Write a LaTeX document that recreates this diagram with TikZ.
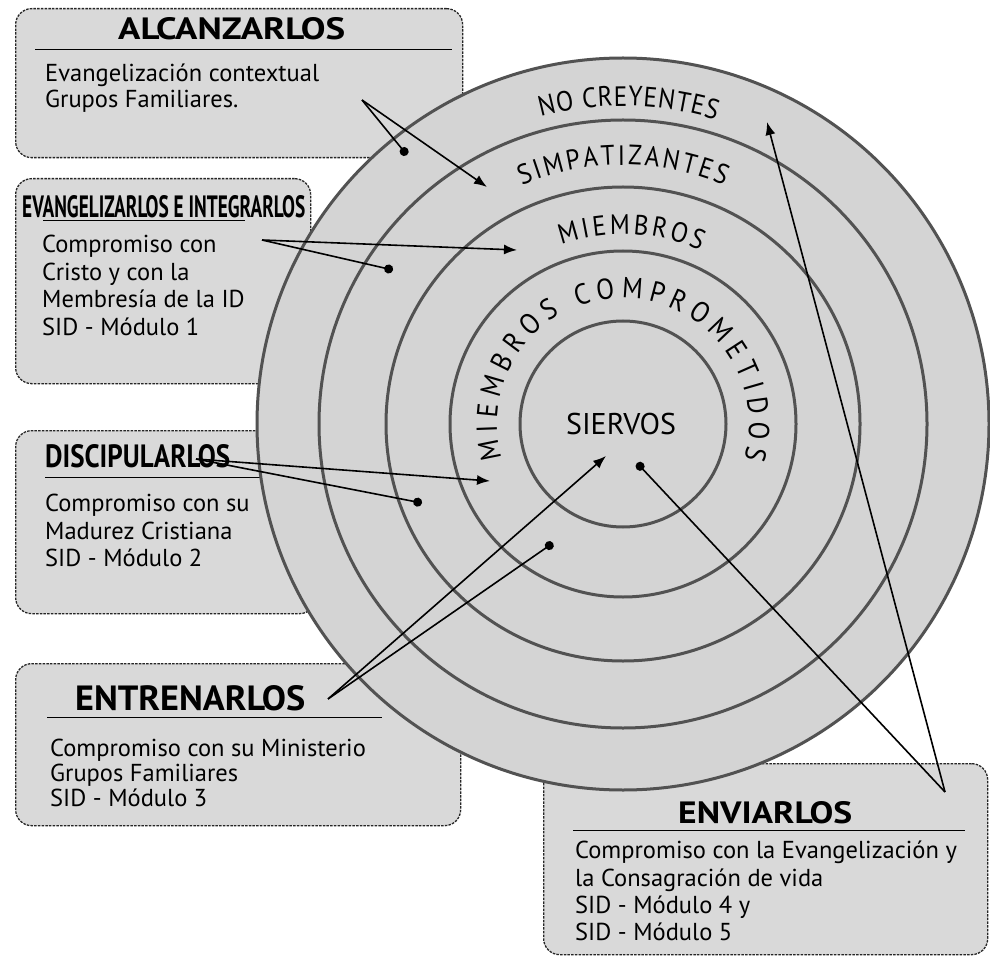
\documentclass[tikz,border=0pt]{standalone}
\usepackage{fontspec}
\setmainfont{PT Sans}
\newfontfamily\lblfont[FakeStretch=0.9]{PT Sans}
\usepackage{graphicx}
\usetikzlibrary{arrows.meta,decorations.text,calc}
\begin{document}
\begin{tikzpicture}[x=1pt,y=1pt,
  box/.style={draw=black!85, dash pattern=on 2.5pt off 1.2pt, line width=1.3pt, rounded corners=16pt, fill=black!15, inner sep=0pt, anchor=north west},
  ring/.style={circle, draw=black!68, line width=3pt, fill=black!17, inner sep=0pt},
  body/.style={anchor=base west, inner sep=0pt, font=\fontsize{24.5}{28}\selectfont},
  ttl/.style={anchor=base west, inner sep=0pt},
  ctext/.style={decorate, decoration={text along path, text align={fit to path}, text={#1}}},
  conn/.style={line width=1.6pt, black},
  tipline/.style={conn, -{Latex[length=13pt,width=10pt]}},
  dotline/.style={conn, -{Circle[length=9pt]}},
  ulin/.style={line width=1pt, black}
]
\useasboundingbox (0,0) rectangle (990,-957);
\fill[white] (0,0) rectangle (990,-957);

% ---------- boxes ----------
\node[box, minimum width=447pt, minimum height=149pt] (b1) at (15,-8) {};
\node[box, minimum width=295pt, minimum height=205pt] (b2) at (15,-178) {};
\node[box, minimum width=300pt, minimum height=183pt] (b3) at (15,-430) {};
\node[box, minimum width=445pt, minimum height=162pt] (b4) at (15,-663) {};
\node[box, minimum width=444pt, minimum height=191pt] (b5) at (543,-763) {};

% box 1
\node[ttl] (t1) at (118,-40) {\resizebox{227pt}{22pt}{\bfseries ALCANZARLOS}};
\draw[ulin] (35,-50) -- (452,-50);
\node[body] (l11) at (45,-82) {Evangelización contextual};
\node[body] (l12) at (45,-108) {Grupos Familiares.};

% box 2
\node[ttl] (t2) at (22,-218) {\resizebox{283pt}{22pt}{\bfseries EVANGELIZARLOS E INTEGRARLOS}};
\draw[ulin] (43,-221) -- (245,-221);
\node[body] (l21) at (42,-253) {Compromiso con};
\node[body] (l22) at (42,-281) {Cristo y con la};
\node[body] (l23) at (42,-308) {Membresía de la ID};
\node[body] (l24) at (42,-335) {SID - Módulo 1};

% box 3
\node[ttl] (t3) at (45,-467) {\resizebox{185pt}{23pt}{\bfseries DISCIPULARLOS}};
\draw[ulin] (45,-477) -- (280,-477);
\node[body] (l31) at (45,-511) {Compromiso con su};
\node[body] (l32) at (45,-539) {Madurez Cristiana};
\node[body] (l33) at (45,-566) {SID - Módulo 2};

% box 4
\node[ttl] (t4) at (75,-710) {\resizebox{230pt}{25pt}{\bfseries ENTRENARLOS}};
\draw[ulin] (47,-717) -- (382,-717);
\node[body] (l41) at (50,-756) {Compromiso con su Ministerio};
\node[body] (l42) at (50,-781) {Grupos Familiares};
\node[body] (l43) at (50,-806) {SID - Módulo 3};

% box 5
\node[ttl] (t5) at (678,-823) {\resizebox{174pt}{22pt}{\bfseries ENVIARLOS}};
\draw[ulin] (573,-830) -- (965,-830);
\node[body] (l51) at (575,-858) {Compromiso con la Evangelización y};
\node[body] (l52) at (575,-886) {la Consagración de vida};
\node[body] (l53) at (575,-913) {SID - Módulo 4 y};
\node[body] (l54) at (575,-940) {SID - Módulo 5};

% ---------- rings ----------
\coordinate (C) at (623,-424);
\node[ring, minimum size=732pt] (r5) at (C) {};
\node[ring, minimum size=608pt] (r4) at (C) {};
\node[ring, minimum size=474pt] (r3) at (C) {};
\node[ring, minimum size=346pt] (r2) at (C) {};
\node[ring, minimum size=206pt] (r1) at (C) {};

\node[inner sep=0pt, font=\fontsize{30}{34}\selectfont] (siervos) at (621,-424) {SIERVOS};

\path[ctext={|\lblfont\fontsize{28}{32}\selectfont|NO CREYENTES}]
  ($(C)+(105:318pt)$) arc[start angle=105, end angle=73, radius=318pt];
\path[ctext={|\lblfont\fontsize{28}{32}\selectfont|SIMPATIZANTES}]
  ($(C)+(113:259pt)$) arc[start angle=113, end angle=67, radius=259pt];
\path[ctext={|\lblfont\fontsize{28}{32}\selectfont|MIEMBROS}]
  ($(C)+(109:190pt)$) arc[start angle=109, end angle=66, radius=190pt];
\path[ctext={|\lblfont\fontsize{29}{33}\selectfont|MIEMBROS COMPROMETIDOS}]
  ($(C)+(196:126pt)$) arc[start angle=196, end angle=-16, radius=126pt];

% ---------- connectors ----------
\coordinate (s1) at (362,-100); \coordinate (a1) at (487,-187); \coordinate (d1) at (407,-155);
\coordinate (s2) at (262,-240); \coordinate (a2) at (517,-250); \coordinate (d2) at (393,-270);
\coordinate (s3) at (196,-459); \coordinate (a3) at (490,-481); \coordinate (d3) at (422,-503);
\coordinate (s4) at (328,-699); \coordinate (a4) at (606,-456); \coordinate (d4) at (553,-543);
\coordinate (s5) at (945,-792); \coordinate (a5) at (767,-122); \coordinate (d5) at (637,-463);
\foreach \i in {1,...,5}{
  \draw[tipline] (s\i) -- (a\i);
  \draw[dotline] (s\i) -- (d\i);
}
\end{tikzpicture}
\end{document}
